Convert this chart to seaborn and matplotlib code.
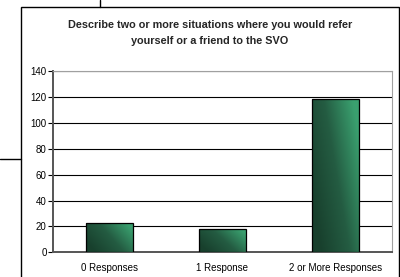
import matplotlib
matplotlib.use("Agg")
import matplotlib.pyplot as plt
import numpy as np
import pandas as pd
import seaborn as sns
from matplotlib.colors import LinearSegmentedColormap
from matplotlib.patches import Rectangle
from matplotlib.lines import Line2D

categories = ["0 Responses", "1 Response", "2 or More Responses"]
counts = [23, 18, 118]
y_ticks = [0, 20, 40, 60, 80, 100, 120, 140]
title = "Describe two or more situations where you would refer\nyourself or a friend to the SVO"

sns.set_style("white")
plt.rcParams["font.family"] = ["Liberation Sans", "DejaVu Sans"]

df = pd.DataFrame({"cat": categories, "n": counts})

fig = plt.figure(figsize=(4.0, 2.77), dpi=100)
ax = fig.add_axes([0.1325, 0.089, 0.8475, 0.6547])

sns.barplot(data=df, x="cat", y="n", order=categories, color="#2a7a52",
            width=0.41, edgecolor="black", linewidth=0.9, ax=ax, zorder=3)

# gradient fill, dark at left/bottom, light at top-right
green = LinearSegmentedColormap.from_list("g", ["#18402d", "#245c42", "#3aa06f"])
gx, gy = np.meshgrid(np.linspace(0, 1, 60), np.linspace(0, 1, 120))
for p in ax.patches:
    x0, y0 = p.get_x(), p.get_y()
    w, h = p.get_width(), p.get_height()
    t = np.clip(0.8 * gx + 0.45 * gy - 0.15, 0, 1)
    im = ax.imshow(t, cmap=green, origin="lower", aspect="auto",
                   extent=[x0, x0 + w, y0, y0 + h], zorder=3.5, vmin=0, vmax=1)
    im.set_clip_path(p)
    p.set_facecolor("none")
    p.set_zorder(4)

ax.set_xlim(-0.5, 2.5)
ax.set_ylim(0, 140)
ax.set_yticks(y_ticks)
ax.set_yticklabels([str(v) for v in y_ticks])
ax.set_xlabel("")
ax.set_ylabel("")
ax.grid(axis="y", color="black", linewidth=0.8, zorder=1)
ax.set_axisbelow(True)

ax.set_xticks([-0.5, 0.5, 1.5, 2.5], minor=True)
ax.tick_params(axis="x", which="major", length=0, pad=8, labelsize=7, colors="black")
ax.tick_params(axis="x", which="minor", length=3, width=0.8, direction="out", color="#222222")
ax.tick_params(axis="y", length=3.5, width=0.8, pad=1, labelsize=7, colors="black", left=True)

for s in ["left", "bottom"]:
    ax.spines[s].set_color("#555555")
    ax.spines[s].set_linewidth(1.4)
for s in ["top", "right"]:
    ax.spines[s].set_color("#a0a0a0")
    ax.spines[s].set_linewidth(0.8)

fig.text(0.525, 0.881, title, ha="center", va="center", fontsize=7.8,
         fontweight="bold", linespacing=1.65)

# surrounding chart frame and stray lines of the page
fig.patches.append(Rectangle((0.052, -0.02), 0.9455, 0.9936, transform=fig.transFigure,
                             fill=False, edgecolor="black", linewidth=1.0))
fig.lines.append(Line2D([0.25, 0.25], [0.9736, 1.0], transform=fig.transFigure,
                        color="black", linewidth=1.0))
fig.lines.append(Line2D([0.0, 0.052], [0.426, 0.426], transform=fig.transFigure,
                        color="black", linewidth=1.0))

fig.savefig("out.png", dpi=100)
